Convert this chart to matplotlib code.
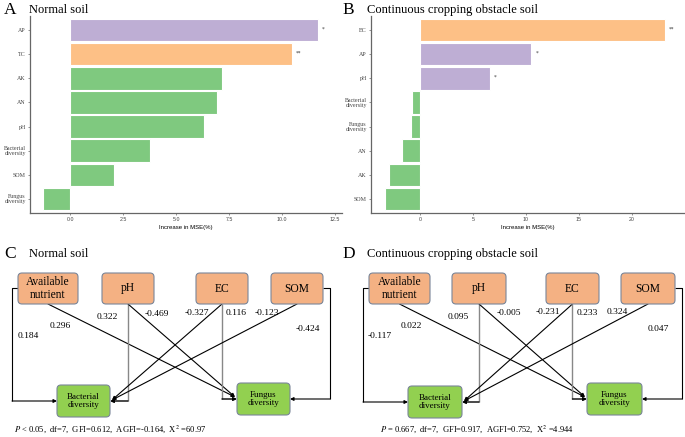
import numpy as np
import matplotlib.pyplot as plt
from matplotlib.patches import FancyBboxPatch

plt.rcParams['font.family'] = ['Liberation Serif', 'DejaVu Serif']
plt.rcParams['mathtext.fontset'] = 'stix'

# ---- data: random forest importance ----
labels_a = ["AP", "TC", "AK", "AN", "pH", "Bacterial\ndiversity", "SOM", "Fungus\ndiversity"]
mse_a = [11.7, 10.47, 7.19, 6.93, 6.32, 3.76, 2.08, -1.26]
sig_a = ["*", "**", "", "", "", "", "", ""]

labels_b = ["EC", "AP", "pH", "Bacterial\ndiversity", "Fungus\ndiversity", "AN", "AK", "SOM"]
mse_b = [23.1, 10.5, 6.57, -0.79, -0.85, -1.73, -2.9, -3.27]
sig_b = ["**", "*", "*", "", "", "", "", ""]

# ---- data: structural equation model path coefficients ----
# order: AN->Bact, AN->Fung, pH->Bact, pH->Fung, EC->Bact, EC->Fung, SOM->Bact, SOM->Fung
coef_c = [0.184, 0.296, 0.322, -0.469, -0.327, 0.116, -0.123, -0.424]
coef_d = [-0.117, 0.022, 0.095, -0.005, -0.231, 0.233, 0.324, 0.047]
fit_c = r"$P$ < 0.05,  df=7,  GFI=0.612,  AGFI=-0.164,  X$^2$ =60.97"
fit_d = r"$P$ = 0.667,  df=7,  GFI=0.917,  AGFI=0.752,  X$^2$ =4.944"

PURPLE, ORANGE, GREEN = "#BEAED4", "#FDC086", "#7FC97F"
cols_a = [PURPLE, ORANGE] + [GREEN] * 6
cols_b = [ORANGE, PURPLE, PURPLE] + [GREEN] * 5

W, H = 685, 437
fig = plt.figure(figsize=(W / 100, H / 100), dpi=100)


def px(x0, y0, x1, y1):
    return [x0 / W, 1 - y1 / H, (x1 - x0) / W, (y1 - y0) / H]


def bar_panel(rect, labels, vals, sig, cols, xlim, ticks, ticklabels):
    ax = fig.add_axes(rect)
    y = np.arange(len(labels))
    ax.barh(y, vals, height=0.92, color=cols, edgecolor="white", linewidth=0.8)
    for yi, v, s in zip(y, vals, sig):
        if s:
            ax.annotate(s, (v, yi), xytext=(3, 1), textcoords="offset points",
                        fontsize=4, va="center", ha="left", color="#333333")
    ax.set_ylim(len(labels) - 0.4, -0.6)
    ax.set_xlim(*xlim)
    ax.set_yticks(y)
    ax.set_yticklabels(labels, fontsize=4.3, color="#444444", linespacing=1.1)
    ax.set_xticks(ticks)
    ax.set_xticklabels(ticklabels, fontsize=3.8, color="#444444", family="Liberation Sans")
    ax.set_xlabel("Increase in MSE(%)", fontsize=4.3, family="Liberation Sans", labelpad=2)
    for s in ["top", "right"]:
        ax.spines[s].set_visible(False)
    for s in ["left", "bottom"]:
        ax.spines[s].set_color("#666666")
        ax.spines[s].set_linewidth(0.9)
    ax.tick_params(length=1.5, width=0.5, color="#666666", pad=1.5)
    return ax


bar_panel(px(30, 16, 342, 213), labels_a, mse_a, sig_a, cols_a,
          (-1.89, 12.83), [0, 2.5, 5, 7.5, 10, 12.5],
          ["0.0", "2.5", "5.0", "7.5", "10.0", "12.5"])
bar_panel(px(371, 16, 685, 213), labels_b, mse_b, sig_b, cols_b,
          (-4.62, 25), [0, 5, 10, 15, 20], ["0", "5", "10", "15", "20"])

# overlay in pixel coordinates for titles and path diagrams
ov = fig.add_axes([0, 0, 1, 1])
ov.set_xlim(0, W)
ov.set_ylim(H, 0)
ov.axis("off")

for x, y, letter, title in [(4, 10, "A", "Normal soil"), (342, 10, "B", "Continuous cropping obstacle soil"),
                            (4, 254, "C", "Normal soil"), (342, 254, "D", "Continuous cropping obstacle soil")]:
    ov.text(x, y, letter, fontsize=12.5, va="center", ha="left")
    ov.text(x + 25, y, title, fontsize=9, va="center", ha="left")

BOX_EDGE = "#7a8699"


def box(b, text, fc, fs):
    x0, y0, x1, y1 = b
    ov.add_patch(FancyBboxPatch((x0, y0), x1 - x0, y1 - y0,
                                boxstyle="round,pad=0,rounding_size=4",
                                fc=fc, ec=BOX_EDGE, lw=0.8, zorder=3))
    ov.text((x0 + x1) / 2, (y0 + y1) / 2, text, fontsize=fs, ha="center", va="center",
            zorder=4, linespacing=1.15)


def line(pts, color="black", lw=0.8, arrow=True):
    xs, ys = zip(*pts)
    if arrow:
        ov.plot(xs[:-1], ys[:-1], color=color, lw=lw, zorder=2, solid_capstyle="butt")
        ov.annotate("", xy=pts[-1], xytext=pts[-2],
                    arrowprops=dict(arrowstyle="-|>", color="black", lw=lw,
                                    mutation_scale=5, shrinkA=0, shrinkB=0), zorder=2)
    else:
        ov.plot(xs, ys, color=color, lw=lw, zorder=2)


def sem_panel(boxes, coefs, label_pos, fit, fit_xy):
    an, ph, ec, som, ba, fu = boxes
    box(an, "Available\nnutrient", "#F4B183", 8.3)
    box(ph, "pH", "#F4B183", 8.3)
    box(ec, "EC", "#F4B183", 8.3)
    box(som, "SOM", "#F4B183", 8.3)
    box(ba, "Bacterial\ndiversity", "#92D050", 6.5)
    box(fu, "Fungus\ndiversity", "#92D050", 6.5)

    def cx(b):
        return (b[0] + b[2]) / 2

    def my(b):
        return (b[1] + b[3]) / 2

    ba_y = ba[1] + 16
    ba_r = (ba[2] + 2, ba[1] + 15)
    fu_y = fu[1] + 16
    fu_l = (fu[0] - 2, fu[1] + 14)

    # available nutrient
    line([(an[0], my(an) - 1), (an[0] - 6, my(an) - 1), (an[0] - 6, ba_y), (ba[0], ba_y)])
    line([(cx(an), an[3]), fu_l])
    # pH
    line([(cx(ph), ph[3]), (cx(ph), ba_y), (ba[2], ba_y)], color="#888888", lw=1.0)
    line([(cx(ph), ph[3]), fu_l])
    # EC
    line([(cx(ec), ec[3]), ba_r])
    line([(cx(ec), ec[3]), (cx(ec), fu_y), (fu[0], fu_y)], color="#888888", lw=1.0)
    # SOM
    line([(cx(som), som[3]), ba_r])
    line([(som[2], my(som) - 1), (som[2] + 7, my(som) - 1), (som[2] + 7, fu_y), (fu[2], fu_y)])

    for c, (x, y) in zip(coefs, label_pos):
        ov.text(x, y, f"{c:.3f}", fontsize=6.8, ha="center", va="center", zorder=5)
    ov.text(fit_xy[0], fit_xy[1], fit, fontsize=6.1, ha="left", va="center")


boxes_c = [(18, 273, 78, 304), (102, 273, 154, 304), (196, 273, 248, 304),
           (271, 273, 323, 304), (57, 385, 110, 417), (237, 383, 290, 415)]
pos_c = [(28, 336), (60, 326), (107, 317), (157, 314), (197, 313), (236, 313), (267, 313), (308, 329)]
sem_panel(boxes_c, coef_c, pos_c, fit_c, (14, 429))

boxes_d = [(369, 273, 430, 304), (452, 273, 506, 304), (546, 273, 599, 304),
           (621, 273, 675, 304), (408, 386, 462, 418), (587, 383, 642, 415)]
pos_d = [(380, 336), (411, 326), (458, 317), (509, 313), (548, 312), (587, 313), (617, 312), (658, 329)]
sem_panel(boxes_d, coef_d, pos_d, fit_d, (380, 429))

fig.savefig("out.png", dpi=100)
